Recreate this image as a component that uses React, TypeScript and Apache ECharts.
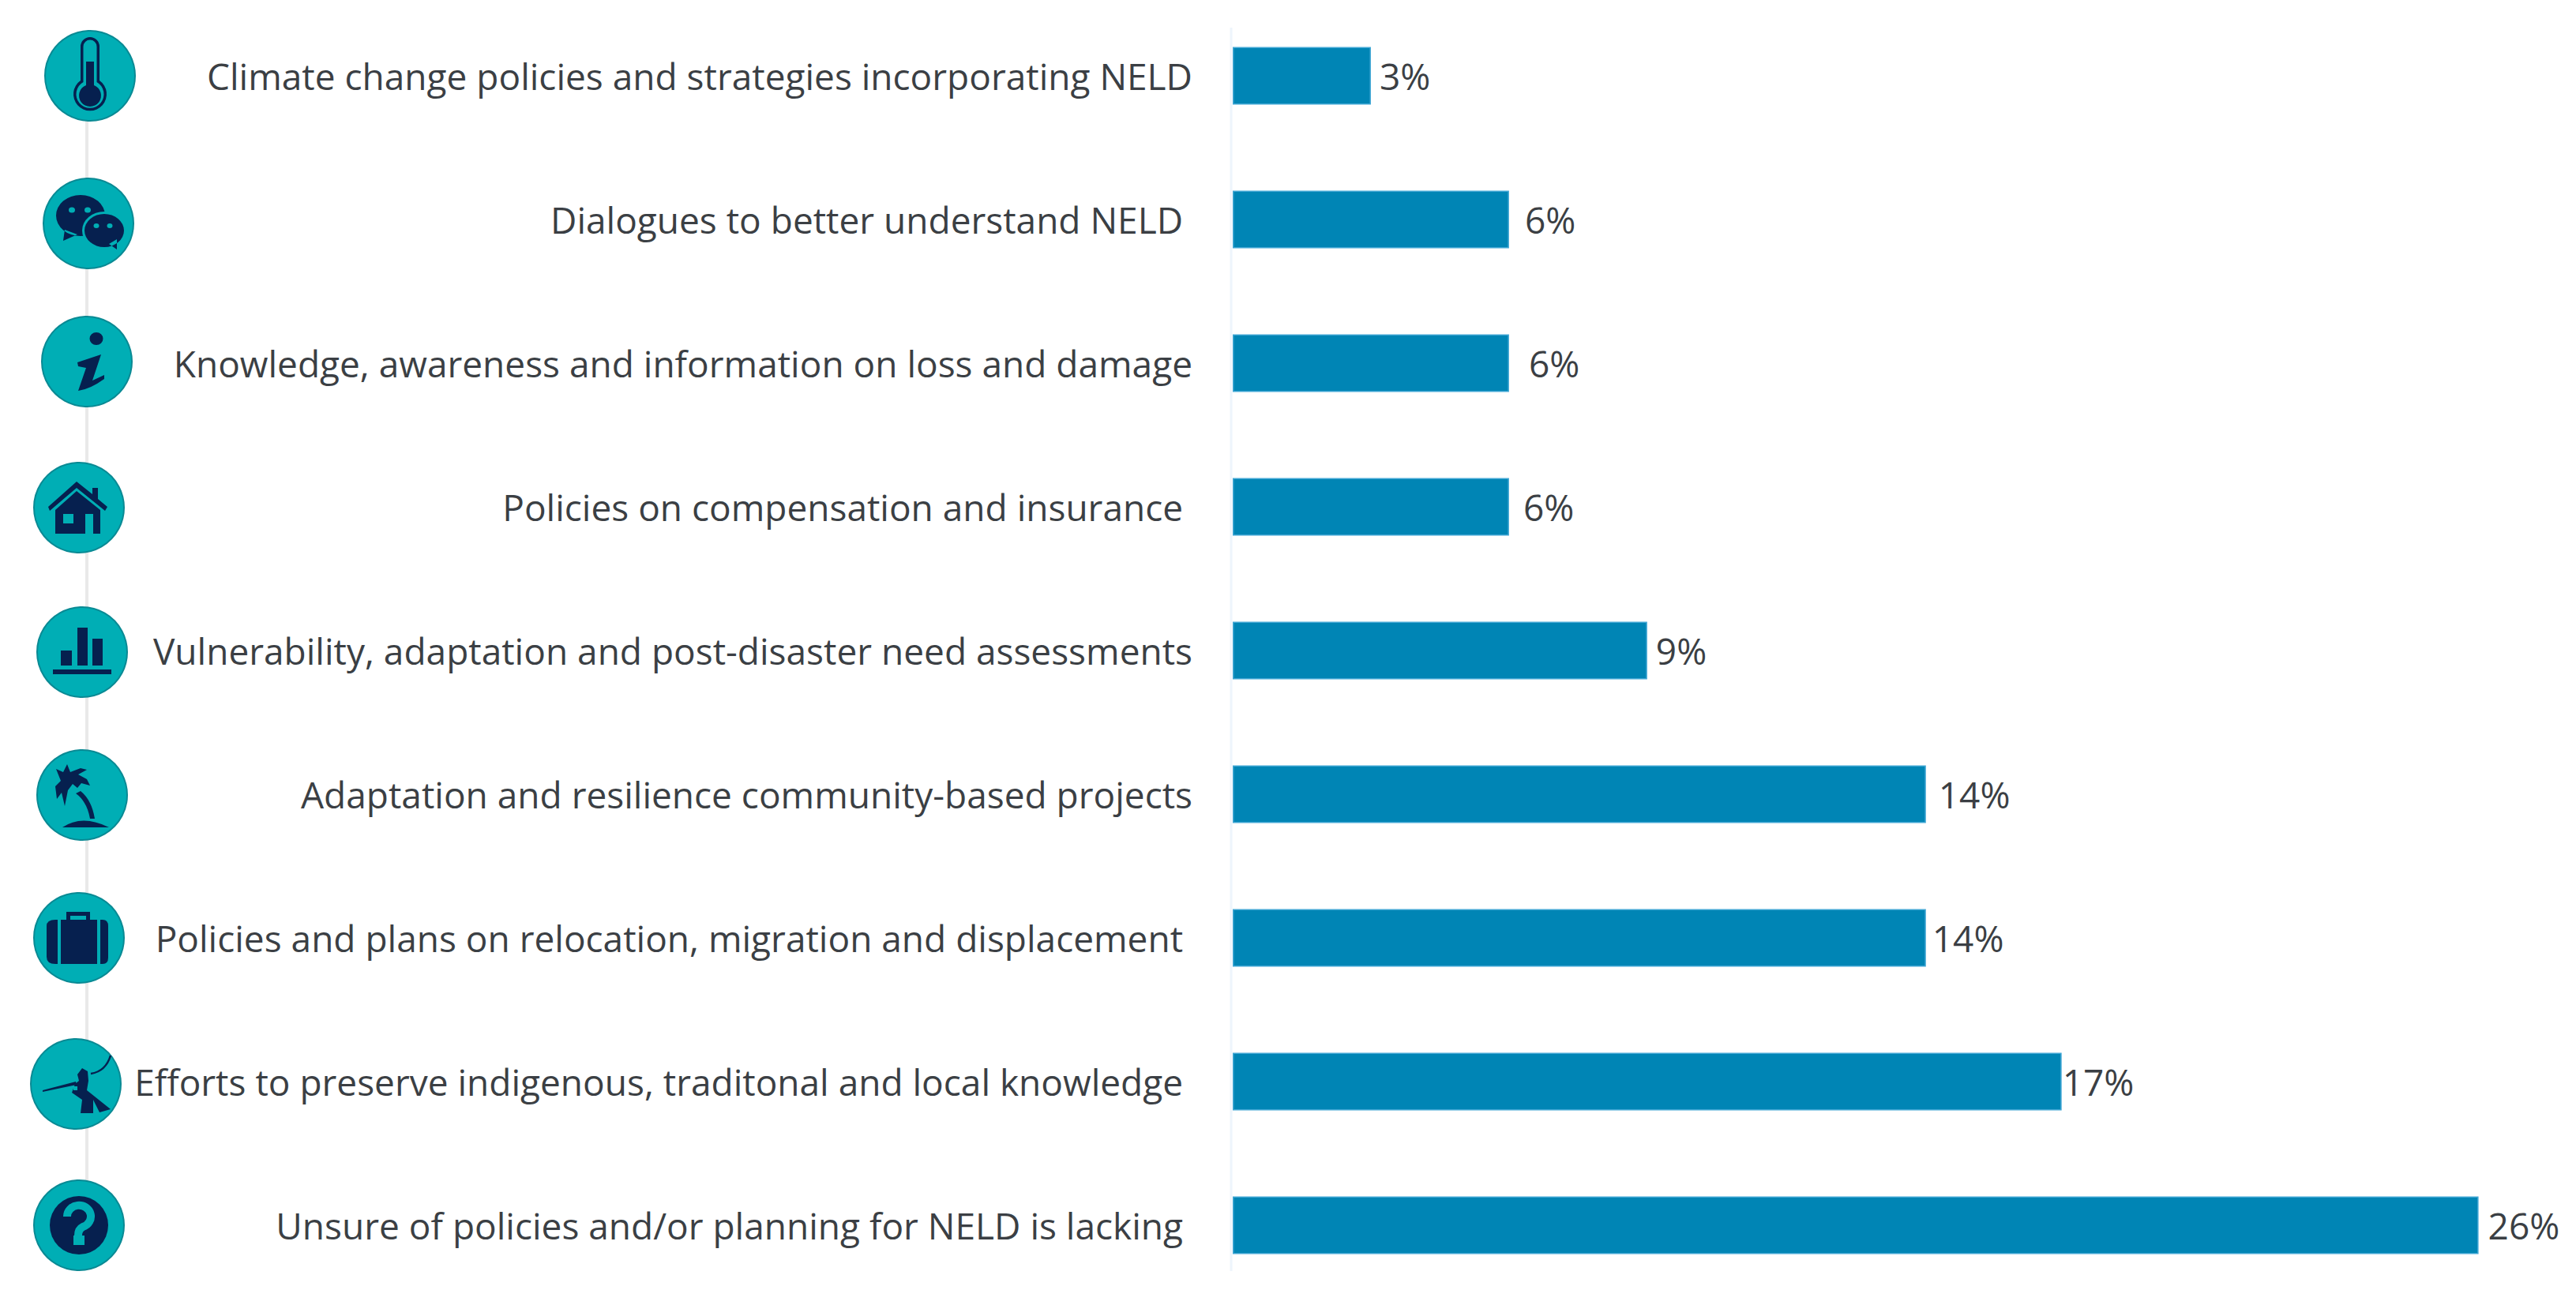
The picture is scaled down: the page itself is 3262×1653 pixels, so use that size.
import React, { useEffect, useRef } from "react";
import * as echarts from "echarts";

const categories = [
  "Climate change policies and strategies incorporating NELD",
  "Dialogues to better understand NELD ",
  "Knowledge, awareness and information on loss and damage",
  "Policies on compensation and insurance ",
  "Vulnerability, adaptation and post-disaster need assessments",
  "Adaptation and resilience community-based projects",
  "Policies and plans on relocation, migration and displacement ",
  "Efforts to preserve indigenous, traditonal and local knowledge ",
  "Unsure of policies and/or planning for NELD is lacking ",
];
const shares = [2.85, 5.7, 5.7, 5.7, 8.55, 14.3, 14.3, 17.1, 25.7];
const labelGaps = [11, 20, 25, 18, 11, 16, 8, 1, 12];

const NAVY = "#06204f";
const TEAL = "#00aeb5";
const TEAL_EDGE = "#0a8a94";
const FONT = "'Open Sans', sans-serif";

type Part = { d: string; fill?: string; stroke?: string; w?: number };
const ell = (cx: number, cy: number, rx: number, ry: number) =>
  `M${cx - rx} ${cy} A${rx} ${ry} 0 1 1 ${cx + rx} ${cy} A${rx} ${ry} 0 1 1 ${cx - rx} ${cy} Z`;
const box = (x0: number, y0: number, x1: number, y1: number) => `M${x0} ${y0} H${x1} V${y1} H${x0} Z`;

const iconParts: Part[][] = [
  [
    { d: "M-12 -37 A12 12 0 0 1 12 -37 V6 A21 21 0 1 1 -12 6 Z", fill: NAVY },
    { d: "M-8.5 -37 A8.5 8.5 0 0 1 8.5 -37 V8 A17.5 17.5 0 1 1 -8.5 8 Z", fill: TEAL },
    { d: "M-5 -18 H5 V12 A14 14 0 1 1 -5 12 Z", fill: NAVY },
  ],
  [
    { d: ell(-10, -10, 31, 26) + " M-30 8 L-32 22 L-14 14 Z", fill: NAVY },
    { d: ell(-21, -17, 4, 3.5) + ell(-1, -17, 4, 3.5), fill: TEAL },
    { d: ell(20, 9, 28, 24), fill: TEAL },
    { d: ell(20, 9, 25, 21) + " M26 26 L36 33 L36 20 Z", fill: NAVY },
    { d: ell(10, 3, 3.5, 3) + ell(27, 3, 3.5, 3), fill: TEAL },
  ],
  [
    { d: ell(12, -29, 8.5, 8), fill: NAVY },
    { d: "M-12 1 L18 -9 L7 24 L22 17 L22 22 Q4 35 -11 37 L-1 8 L-11 6 Z", fill: NAVY },
  ],
  [
    { d: "M-3 -33 L-39 -1 L-37 4 L-3 -25 L33 4 L36 -1 L24 -11 V-25 H17 V-17 Z", fill: NAVY },
    { d: "M-3 -21 L-30 3 V33 H8 V8 H18 V33 H27 V3 Z", fill: NAVY },
    { d: box(-20, 8, -7, 20), fill: TEAL },
  ],
  [
    { d: box(-27, -2, -13, 17), fill: NAVY },
    { d: box(-6, -31, 7, 17), fill: NAVY },
    { d: box(13, -17, 26, 17), fill: NAVY },
    { d: box(-37, 22, 37, 28), fill: NAVY },
  ],
  [
    { d: "M-25 41 Q0 24 34 41 Z", fill: NAVY },
    { d: "M-8 -2 Q6 8 10 30 L16 30 Q12 6 -2 -5 Z", fill: NAVY },
    {
      d: "M-33 -33 L-24 -29 L-19 -39 L-15 -29 L-2 -34 L6 -32 L-5 -26 L6 -20 L10 -12 L-1 -15 L-6 -9 L-12 -14 L-18 -6 L-22 14 L-26 -3 L-32 5 L-34 -11 L-27 -18 Z",
      fill: NAVY,
    },
  ],
  [
    { d: "M-30 -23 Q-41 -23 -41 -15 V24 Q-41 33 -30 33 H-27 V-23 Z", fill: NAVY },
    { d: "M-23 -23 H23 V33 H-23 Z", fill: NAVY },
    { d: "M27 -23 H30 Q37 -23 37 -15 V25 Q37 33 30 33 H27 Z", fill: NAVY },
    { d: "M-16 -23 V-33 H14 V-23 H9 V-28 H-11 V-23 Z", fill: NAVY },
  ],
  [
    { d: "M-42 8 L0 -3 L1 1 L-42 10 Z", fill: NAVY },
    { d: "M2 -12 L8 -20 L15 -16 L16 -4 L14 8 L44 32 L30 36 L22 20 L22 37 L6 37 L8 20 L-5 11 L-1 0 L4 -4 Z", fill: NAVY },
    { d: box(-3, 3, 2, 8), fill: TEAL },
    { d: "M19 -13 Q38 -16 44 -36", stroke: NAVY, w: 2.5 },
  ],
  [
    { d: ell(0, 0, 37, 37), fill: NAVY },
    { d: "M-15 -11 A15 14 0 1 1 5 2 Q-1 5 -1 13", stroke: TEAL, w: 10 },
    { d: box(-7, 13, 7, 25), fill: TEAL },
  ],
];
const iconCentres = [
  [114, 96], [112, 283], [110, 458], [100, 643], [104, 826],
  [104, 1007], [100, 1188], [96, 1373], [100, 1552],
];

iconParts.forEach((parts, i) =>
  parts.forEach((p, j) =>
    echarts.graphic.registerShape(`icon_${i}_${j}`, echarts.graphic.extendPath(p.d, {}) as any)
  )
);

export default function App() {
  const ref = useRef<HTMLDivElement>(null);
  useEffect(() => {
    document.body.style.margin = "0";
    const chart = echarts.init(ref.current!, undefined, { renderer: "svg" });
    const graphic: any[] = [
      { type: "line", z: 0, shape: { x1: 110, y1: 130, x2: 110, y2: 1590 }, style: { stroke: "#e9e9e9", lineWidth: 4 } },
      { type: "line", z: 0, shape: { x1: 1559, y1: 35, x2: 1559, y2: 1610 }, style: { stroke: "#eef5fc", lineWidth: 3 } },
    ];
    iconCentres.forEach(([x, y], i) => {
      graphic.push({
        type: "circle", z: 1, shape: { cx: x, cy: y, r: 57 },
        style: { fill: TEAL, stroke: TEAL_EDGE, lineWidth: 2 },
      });
      iconParts[i].forEach((p, j) =>
        graphic.push({
          type: `icon_${i}_${j}`, z: 2, x, y,
          style: p.stroke
            ? { fill: "none", stroke: p.stroke, lineWidth: p.w }
            : { fill: p.fill },
        })
      );
    });
    chart.setOption({
      animation: false,
      backgroundColor: "#ffffff",
      grid: { left: 1561, right: 105, top: 5, height: 1638 },
      xAxis: { type: "value", min: 0, max: 26, show: false },
      yAxis: {
        type: "category",
        inverse: true,
        data: categories,
        axisLine: { show: false },
        axisTick: { show: false },
        axisLabel: { margin: 51, fontSize: 46, color: "#3b3f44", fontFamily: FONT },
      },
      series: [
        {
          type: "bar",
          barWidth: 73,
          itemStyle: { color: "#0085b5", borderColor: "#3fa6d4", borderWidth: 1.5 },
          data: shares.map((v, i) => ({
            value: v,
            label: {
              show: true,
              position: "right",
              distance: labelGaps[i],
              formatter: `${Math.round(v)}%`,
              fontSize: 46,
              color: "#3b3f44",
              fontFamily: FONT,
            },
          })),
        },
      ],
      graphic,
    });
    return () => chart.dispose();
  }, []);
  return <div ref={ref} style={{ position: "fixed", left: 0, top: 0, width: 3262, height: 1653 }} />;
}
